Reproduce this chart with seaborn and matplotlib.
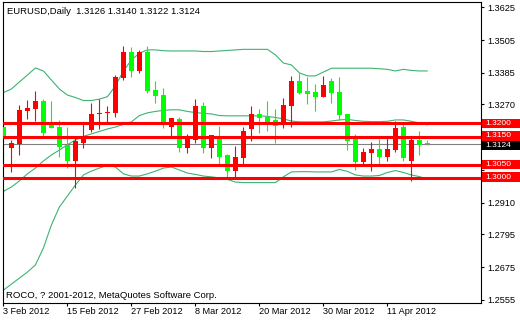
import numpy as np
import pandas as pd
import matplotlib
matplotlib.use("Agg")
import matplotlib.pyplot as plt
import seaborn as sns
from matplotlib.transforms import blended_transform_factory
from matplotlib.patches import Rectangle

# ---------------- data ----------------
date_ticks = ["3 Feb 2012", "15 Feb 2012", "27 Feb 2012", "8 Mar 2012",
              "20 Mar 2012", "30 Mar 2012", "11 Apr 2012"]
date_tick_bars = [0, 8, 16, 24, 32, 40, 48]

open_ = [1.3187, 1.3112, 1.3125, 1.3247, 1.3253, 1.3282, 1.3195, 1.3186, 1.3122, 1.3064,
         1.3130, 1.3176, 1.3234, 1.3238, 1.3240, 1.3368, 1.3462, 1.3392, 1.3460, 1.3323,
         1.3304, 1.3189, 1.3217, 1.3110, 1.3140, 1.3264, 1.3110, 1.3150, 1.3085, 1.3028,
         1.3075, 1.3179, 1.3235, 1.3225, 1.3213, 1.3203, 1.3265, 1.3356, 1.3319, 1.3316,
         1.3295, 1.3356, 1.3316, 1.3235, 1.3142, 1.3061, 1.3093, 1.3107, 1.3079, 1.3103,
         1.3186, 1.3064, 1.3140, 1.3126]
high = [1.3202, 1.3140, 1.3268, 1.3286, 1.3319, 1.3289, 1.3282, 1.3213, 1.3186, 1.3156,
        1.3198, 1.3274, 1.3289, 1.3264, 1.3378, 1.3485, 1.3481, 1.3469, 1.3485, 1.3356,
        1.3331, 1.3219, 1.3225, 1.3161, 1.3289, 1.3280, 1.3158, 1.3191, 1.3089, 1.3118,
        1.3186, 1.3264, 1.3252, 1.3282, 1.3252, 1.3292, 1.3375, 1.3384, 1.3371, 1.3345,
        1.3374, 1.3365, 1.3369, 1.3235, 1.3162, 1.3110, 1.3134, 1.3144, 1.3150, 1.3210,
        1.3197, 1.3146, 1.3174, 1.3140]
low = [1.3059, 1.3024, 1.3085, 1.3217, 1.3209, 1.3152, 1.3185, 1.3077, 1.3039, 1.2966,
       1.3112, 1.3170, 1.3179, 1.3207, 1.3225, 1.3359, 1.3371, 1.3384, 1.3311, 1.3276,
       1.3183, 1.3152, 1.3097, 1.3093, 1.3130, 1.3093, 1.3075, 1.3052, 1.3006, 1.3006,
       1.3052, 1.3137, 1.3167, 1.3174, 1.3130, 1.3185, 1.3189, 1.3307, 1.3271, 1.3247,
       1.3295, 1.3274, 1.3213, 1.3103, 1.3030, 1.3052, 1.3027, 1.3052, 1.3064, 1.3097,
       1.3064, 1.2991, 1.3085, 1.3122]
close = [1.3151, 1.3130, 1.3250, 1.3257, 1.3282, 1.3167, 1.3185, 1.3115, 1.3064, 1.3136,
         1.3148, 1.3235, 1.3240, 1.3243, 1.3371, 1.3462, 1.3392, 1.3462, 1.3319, 1.3302,
         1.3203, 1.3219, 1.3112, 1.3152, 1.3264, 1.3112, 1.3158, 1.3079, 1.3028, 1.3077,
         1.3174, 1.3235, 1.3221, 1.3207, 1.3192, 1.3268, 1.3356, 1.3313, 1.3308, 1.3295,
         1.3341, 1.3313, 1.3231, 1.3137, 1.3061, 1.3097, 1.3107, 1.3079, 1.3107, 1.3185,
         1.3075, 1.3140, 1.3120, 1.3124]

bb_upper = [1.3313, 1.3326, 1.3352, 1.3377, 1.3403, 1.3392, 1.3359, 1.3326, 1.3304, 1.3295,
            1.3284, 1.3284, 1.3289, 1.3298, 1.3337, 1.3392, 1.3432, 1.3457, 1.3469, 1.3469,
            1.3466, 1.3465, 1.3465, 1.3465, 1.3465, 1.3463, 1.3463, 1.3465, 1.3467, 1.3469,
            1.3471, 1.3471, 1.3471, 1.3471, 1.3451, 1.3421, 1.3414, 1.3385, 1.3374, 1.3374,
            1.3388, 1.3402, 1.3402, 1.3402, 1.3402, 1.3402, 1.3402, 1.3400, 1.3398, 1.3392,
            1.3398, 1.3394, 1.3392, 1.3392]
bb_middle = [1.2952, 1.2968, 1.2990, 1.3016, 1.3037, 1.3063, 1.3085, 1.3103, 1.3122, 1.3140,
             1.3153, 1.3162, 1.3171, 1.3180, 1.3187, 1.3197, 1.3206, 1.3229, 1.3239, 1.3244,
             1.3248, 1.3250, 1.3250, 1.3244, 1.3240, 1.3237, 1.3235, 1.3229, 1.3228, 1.3228,
             1.3228, 1.3228, 1.3228, 1.3226, 1.3222, 1.3217, 1.3209, 1.3206, 1.3206, 1.3206,
             1.3206, 1.3209, 1.3213, 1.3215, 1.3211, 1.3208, 1.3207, 1.3207, 1.3208, 1.3213,
             1.3213, 1.3208, 1.3202, 1.3195]
bb_lower = [1.2591, 1.2613, 1.2635, 1.2657, 1.2683, 1.2745, 1.2829, 1.2895, 1.2935, 1.2975,
            1.3012, 1.3026, 1.3037, 1.3048, 1.3041, 1.3016, 1.3008, 1.3008, 1.3016, 1.3026,
            1.3037, 1.3041, 1.3030, 1.3019, 1.3014, 1.3008, 1.3005, 1.3001, 1.2996, 1.2986,
            1.2984, 1.2984, 1.2984, 1.2984, 1.2984, 1.3005, 1.3023, 1.3024, 1.3024, 1.3023,
            1.3023, 1.3023, 1.3032, 1.3025, 1.3012, 1.3008, 1.3008, 1.3010, 1.3021, 1.3028,
            1.3021, 1.3012, 1.3006, 1.2996]

levels = [1.3200, 1.3150, 1.3050, 1.3000]
bid = 1.3124
y_ticks = [1.3625, 1.3505, 1.3385, 1.3270, 1.3150, 1.3030, 1.2910, 1.2795, 1.2675, 1.2555]
y_tick_labels = ["1.3625", "1.3505", "1.3385", "1.3270", "", "", "1.2910", "1.2795", "1.2675", "1.2555"]
title_text = "EURUSD,Daily  1.3126 1.3140 1.3122 1.3124"
footer_text = "ROCO, ? 2001-2012, MetaQuotes Software Corp."

# ---------------- style ----------------
sns.set_style("white")
plt.rcParams['font.family'] = ['Liberation Sans', 'DejaVu Sans']
FS = 6.6

W, H = 520, 320
fig = plt.figure(figsize=(W / 100, H / 100), dpi=100)
fig.patch.set_facecolor("white")
ax_l, ax_r, ax_t, ax_b = 3, 481, 2, 303
ax = fig.add_axes([ax_l / W, 1 - ax_b / H, (ax_r - ax_l) / W, (ax_b - ax_t) / H])
ax.set_facecolor("white")

ylo, yhi = 1.2544, 1.3644
ax.set_xlim(-0.05, 59.7)
ax.set_ylim(ylo, yhi)
px = (yhi - ylo) / (ax_b - ax_t)  # price per pixel

bars = np.arange(len(open_))
o = np.array(open_); c = np.array(close); hi = np.array(high); lo = np.array(low)

# Bollinger bands
bands = pd.DataFrame({"bar": bars, "upper": bb_upper, "middle": bb_middle, "lower": bb_lower})
for col in ["upper", "middle", "lower"]:
    sns.lineplot(data=bands, x="bar", y=col, ax=ax, color="#3cb371", lw=0.8, zorder=1)

# bid line
ax.axhline(bid, color="#808080", lw=0.8, zorder=1.5)

# candles
colors = np.where(c > o, "#ff0000", "#00ff00")
body_bottom = np.minimum(o, c)
body_h = np.maximum(np.abs(c - o), px)
ax.vlines(bars, lo, hi, colors=colors, lw=0.8, zorder=2)
ax.bar(bars, body_h, bottom=body_bottom, width=0.625, color=colors, lw=0, zorder=3)

# horizontal red levels
for lv in levels:
    ax.axhline(lv, color="#ff0000", lw=2.2, zorder=4)

ax.set_xlabel("")
ax.set_ylabel("")

# axes ticks
ax.set_xticks(date_tick_bars)
ax.set_xticklabels(date_ticks)
for lbl in ax.get_xticklabels():
    lbl.set_ha("left")
ax.tick_params(axis="x", bottom=True, top=False, direction="out", length=2.3, width=0.8,
               pad=0.8, labelsize=FS, colors="black")
ax.yaxis.tick_right()
ax.set_yticks(y_ticks)
ax.set_yticklabels(y_tick_labels)
ax.tick_params(axis="y", right=True, left=False, labelright=True, labelleft=False,
               direction="out", length=2.3, width=0.8, pad=2.2, labelsize=FS, colors="black")

for s in ax.spines.values():
    s.set_visible(True)
    s.set_color("black")
    s.set_linewidth(0.8)

# right-side price boxes (shifted a pixel or so apart, as the terminal does)
tr = blended_transform_factory(ax.transAxes, ax.transData)
ax_w = ax_r - ax_l
box_x0 = (482 - ax_l) / ax_w
box_w = (W - 482) / ax_w
txt_x = (485 - ax_l) / ax_w
box_h = 9.5 * px
box_specs = [(levels[0], "#ff0000", 0.0), (levels[1], "#ff0000", 1.3), (bid, "#000000", -1.2),
             (levels[2], "#ff0000", 0.0), (levels[3], "#ff0000", 1.0)]
for val, fc, shift_px in box_specs:
    yc = val + shift_px * px
    ax.add_patch(Rectangle((box_x0, yc - box_h / 2), box_w, box_h, transform=tr,
                           facecolor=fc, edgecolor="none", clip_on=False, zorder=6))
    ax.text(txt_x, yc, f"{val:.4f}", transform=tr, color="white", fontsize=6.0,
            ha="left", va="center", clip_on=False, zorder=7)

# texts
fig.text(7 / W, 1 - 11 / H, title_text, fontsize=6.8, color="black", ha="left", va="center")
fig.text(6 / W, 1 - 295 / H, footer_text, fontsize=6.8, color="black", ha="left", va="center")

fig.savefig("out.png", dpi=100, facecolor="white")
